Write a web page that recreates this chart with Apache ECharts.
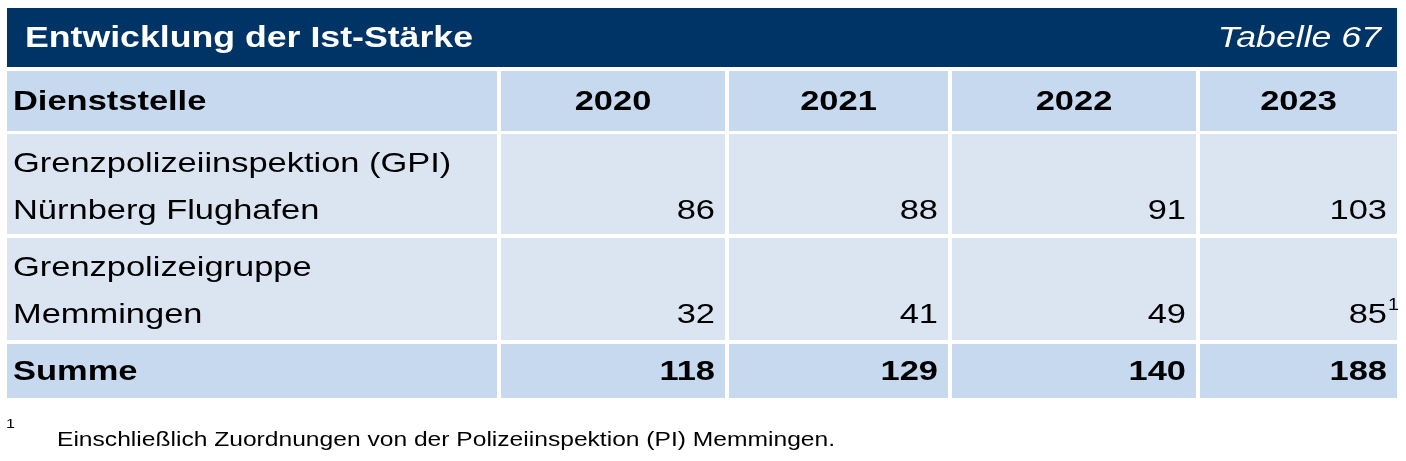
<!DOCTYPE html>
<html>
<head>
<meta charset="utf-8">
<script src="https://cdn.jsdelivr.net/npm/echarts@6/dist/echarts.min.js"></script>
<style>
  html, body { margin: 0; padding: 0; background: #fff; }
  #chart { width: 1406px; height: 461px; }
</style>
</head>
<body>
<div id="chart"></div>
<script>
// Daten
const title = 'Entwicklung der Ist-Stärke';
const tableNo = 'Tabelle 67';
const headerFirst = 'Dienststelle';
const years = ['2020', '2021', '2022', '2023'];
const stations = [
    ['Grenzpolizeiinspektion (GPI)', 'Nürnberg Flughafen'],
    ['Grenzpolizeigruppe', 'Memmingen']
];
const valuesGPI = [86, 88, 91, 103];
const valuesGPG = [32, 41, 49, 85];
const sumLabel = 'Summe';
const sums = [118, 129, 140, 188];
const footnote = 'Einschließlich Zuordnungen von der Polizeiinspektion (PI) Memmingen.';

// Layout
const colEdges = [[7, 497], [501, 725], [729, 948], [952, 1196], [1200, 1397]];
const rowEdges = [[71, 131], [134, 234], [238, 340], [344, 398]];
const FONT = 'Arial, "Liberation Sans", sans-serif';
const HEAD_BG = '#c6d9ee';
const BODY_BG = '#dbe5f1';
const SX = 1.23; // Schrift im Original breiter

const chart = echarts.init(document.getElementById('chart'));

// Text mit horizontaler Streckung
function txt(text, x, y, font, align, extra) {
    return Object.assign({
        type: 'text', x: x, y: y, scaleX: SX,
        style: { text: text, x: 0, y: 0, font: font, fill: '#000',
            align: align || 'left', verticalAlign: 'middle' }
    }, extra || {});
}

const cells = [];
for (let r = 0; r < rowEdges.length; r++) {
    for (let c = 0; c < colEdges.length; c++) cells.push([r, c]);
}
const bodyValues = [valuesGPI, valuesGPG];

function cellText(r, c) {
    if (r === 0) return c === 0 ? headerFirst : years[c - 1];
    if (r === 3) return c === 0 ? sumLabel : String(sums[c - 1]);
    return c === 0 ? null : String(bodyValues[r - 1][c - 1]);
}

function renderItem(params, api) {
    const r = api.value(0), c = api.value(1);
    const p0 = api.coord([colEdges[c][0], rowEdges[r][0]]);
    const p1 = api.coord([colEdges[c][1], rowEdges[r][1]]);
    const bold = r === 0 || r === 3;
    const children = [{
        type: 'rect',
        shape: { x: p0[0], y: p0[1], width: p1[0] - p0[0], height: p1[1] - p0[1] },
        style: { fill: bold ? HEAD_BG : BODY_BG }
    }];
    const font = (bold ? 'bold ' : '') + '28px ' + FONT;
    if (r === 1 || r === 2) {
        if (c === 0) {
            stations[r - 1].forEach(function (line, i) {
                children.push(txt(line, p0[0] + 6, p0[1] + 30 + i * 47, font));
            });
        } else {
            children.push(txt(cellText(r, c), p1[0] - 10, p0[1] + 77, font, 'right'));
            if (r === 2 && c === 4) {
                children.push(txt('1', p1[0] - 9, p0[1] + 68, '16px ' + FONT, 'left'));
            }
        }
    } else {
        const centered = r === 0 && c > 0;
        children.push(txt(cellText(r, c),
            c === 0 ? p0[0] + 6 : (centered ? (p0[0] + p1[0]) / 2 : p1[0] - 10),
            (p0[1] + p1[1]) / 2 + 1, font,
            c === 0 ? 'left' : (centered ? 'center' : 'right')));
    }
    return { type: 'group', children: children };
}

const option = {
    animation: false,
    grid: { left: 0, right: 0, top: 0, bottom: 0 },
    xAxis: { type: 'value', min: 0, max: 1406, show: false },
    yAxis: { type: 'value', min: 0, max: 461, inverse: true, show: false },
    graphic: [
        { type: 'rect', shape: { x: 7, y: 8, width: 1390, height: 59 }, style: { fill: '#003466' } },
        txt(title, 25, 39, 'bold 29px ' + FONT),
        txt(tableNo, 1381, 39, 'italic 29px ' + FONT, 'right'),
        txt('1', 6, 424, '13px ' + FONT),
        txt(footnote, 57, 440, '20px ' + FONT)
    ],
    series: [{
        type: 'custom',
        renderItem: renderItem,
        data: cells,
        silent: true
    }]
};
option.graphic[1].style.fill = '#fff';
option.graphic[2].style.fill = '#fff';
chart.setOption(option);
</script>
</body>
</html>
